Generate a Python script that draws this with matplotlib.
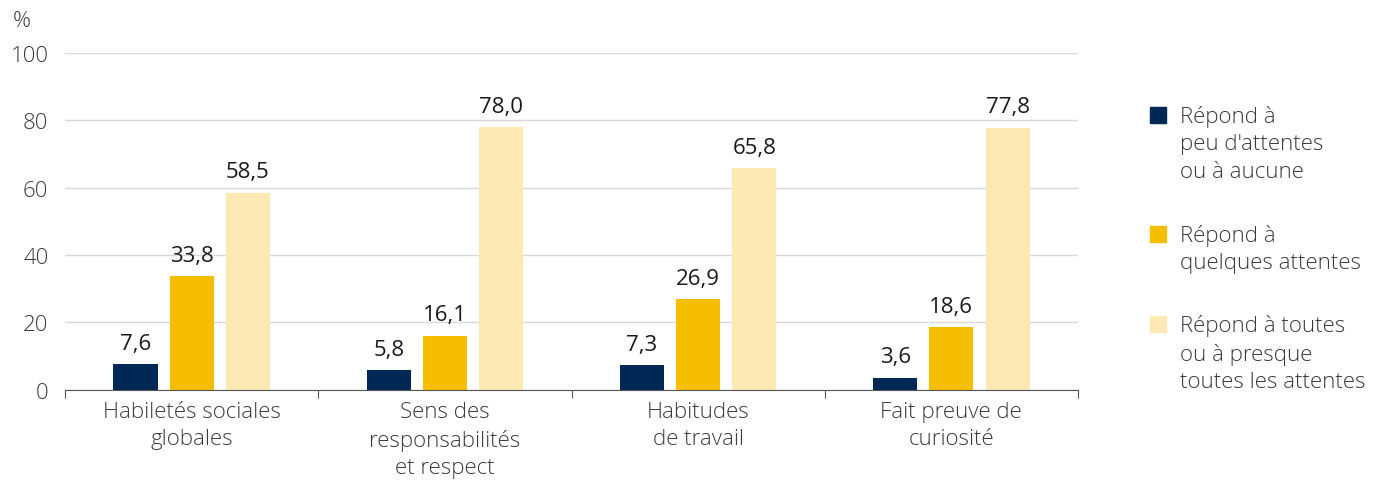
import matplotlib.pyplot as plt
import numpy as np

plt.rcParams['font.family'] = ['Open Sans', 'DejaVu Sans']
plt.rcParams['font.weight'] = 'light'

# Data
categories = ['Habiletés sociales\nglobales', 'Sens des\nresponsabilités\net respect',
              'Habitudes\nde travail', 'Fait preuve de\ncuriosité']
series_names = ["Répond à\npeu d'attentes\nou à aucune", 'Répond à\nquelques attentes',
                'Répond à toutes\nou à presque\ntoutes les attentes']
peu = [7.6, 5.8, 7.3, 3.6]
quelques = [33.8, 16.1, 26.9, 18.6]
toutes = [58.5, 78.0, 65.8, 77.8]
colors = ['#002855', '#F5BE00', '#FDE9B3']

fs = 16
grey = '#3a3a3a'

fig = plt.figure(figsize=(13.85, 4.85), dpi=100)
ax = fig.add_axes([0.047, 0.194, 0.7313, 0.695])

x = np.arange(len(categories))
width = 0.174
offset = 0.222
for i, (vals, col) in enumerate(zip([peu, quelques, toutes], colors)):
    pos = x + (i - 1) * offset
    ax.bar(pos, vals, width=width, color=col, zorder=3)
    for p, v in zip(pos, vals):
        ax.annotate(f'{v:.1f}'.replace('.', ','), (p, v), xytext=(0, 7.5),
                    textcoords='offset points', ha='center', va='bottom',
                    fontsize=fs, color='#1a1a1a', fontweight='normal')

ax.set_xlim(-0.5, len(categories) - 0.5)
ax.set_ylim(0, 100)
ax.set_yticks([0, 20, 40, 60, 80, 100])
ax.grid(axis='y', color='#d9d9d9', linewidth=1, zorder=0)
ax.tick_params(axis='y', length=0, pad=12, labelsize=fs, labelcolor=grey)

ax.set_xticks(np.arange(len(categories) + 1) - 0.5)
ax.set_xticklabels([])
ax.tick_params(axis='x', which='major', length=6, color='#555555', direction='out')
ax.set_xticks(x, minor=True)
ax.set_xticklabels(categories, minor=True, fontsize=fs, color=grey, linespacing=1.4)
ax.tick_params(axis='x', which='minor', length=0, pad=8)

for s in ['top', 'right', 'left']:
    ax.spines[s].set_visible(False)
ax.spines['bottom'].set_color('#555555')
ax.spines['bottom'].set_zorder(4)

fig.text(0.009, 0.955, '%', fontsize=fs, color=grey, va='center')

# Legend drawn by hand so the square sits on the first line
leg_y = [116, 235, 325]
for name, col, yp in zip(series_names, colors, leg_y):
    yf = 1 - yp / 485
    fig.patches.append(plt.Rectangle((1150 / 1385, yf - 8 / 485), 16 / 1385, 16 / 485,
                                     transform=fig.transFigure, color=col))
    fig.text(1180 / 1385, yf + 10 / 485, name, fontsize=fs, color=grey,
             va='top', ha='left', linespacing=1.4)

fig.savefig('out.png', dpi=100)
